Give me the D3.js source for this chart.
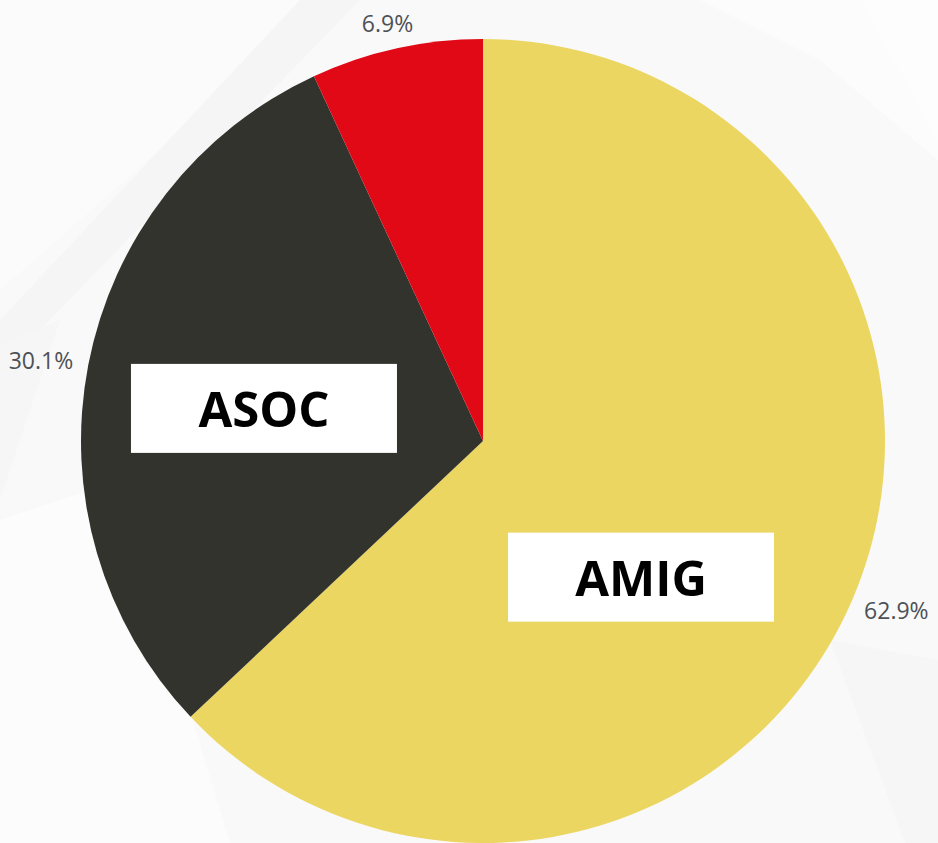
<!DOCTYPE html>
<html>
<head>
<meta charset="utf-8">
<script src="https://cdn.jsdelivr.net/npm/d3@7"></script>
<style>
  html, body { margin: 0; padding: 0; background: #f9f9f9; overflow: hidden; }
</style>
</head>
<body>
<script>
// data
const categories = ["AMIG", "ASOC", "OTRO"];
const shares = [62.9, 30.1, 6.9];
const pctLabels = ["62.9%", "30.1%", "6.9%"];
const showName = [true, true, false];
const colors = ["#ecd662", "#33332e", "#e10916"];

const width = 938, height = 843;
const cx = 483, cy = 441, radius = 402;

const svg = d3.select("body")
  .append("svg")
  .attr("width", width)
  .attr("height", height);

// faint background shapes
const bg = svg.append("g");
bg.append("rect").attr("width", width).attr("height", height).attr("fill", "#f9f9f9");
const shapes = [
  { pts: [[0, 0], [330, 0], [0, 290]], fill: "#fbfbfb" },
  { pts: [[300, 0], [360, 0], [40, 330], [0, 345], [0, 320]], fill: "#f5f5f5" },
  { pts: [[0, 345], [60, 320], [0, 500]], fill: "#f6f6f6" },
  { pts: [[700, 0], [938, 0], [938, 160], [820, 60]], fill: "#fcfcfc" },
  { pts: [[860, 0], [938, 0], [938, 140]], fill: "#fdfdfd" },
  { pts: [[830, 640], [938, 660], [938, 843], [905, 843]], fill: "#f6f6f6" },
  { pts: [[0, 520], [120, 480], [230, 843], [0, 843]], fill: "#fcfcfc" }
];
bg.selectAll("polygon")
  .data(shapes)
  .enter()
  .append("polygon")
  .attr("points", function (d) { return d.pts.map(function (p) { return p.join(","); }).join(" "); })
  .attr("fill", function (d) { return d.fill; });

const data = categories.map(function (c, i) {
  return { name: c, value: shares[i], pct: pctLabels[i], show: showName[i], color: colors[i] };
});

const pie = d3.pie()
  .sort(null)
  .value(function (d) { return d.value; });

const arc = d3.arc()
  .innerRadius(0)
  .outerRadius(radius);

const arcs = pie(data);

const g = svg.append("g")
  .attr("transform", "translate(" + cx + "," + cy + ")");

g.selectAll("path.slice")
  .data(arcs)
  .enter()
  .append("path")
  .attr("class", "slice")
  .attr("d", arc)
  .attr("fill", function (d) { return d.data.color; });

// percentage labels just outside the rim
const pctFont = 23;
const pctPos = function (d) {
  const a = (d.startAngle + d.endAngle) / 2;
  const r = radius + 16;
  const w = d.data.pct.length * pctFont * 0.56, h = pctFont * 0.85;
  const x = r * Math.sin(a) + (w / 2) * Math.sin(a);
  const y = -r * Math.cos(a) - (h / 2) * Math.cos(a);
  return [x, y];
};

g.selectAll("text.pct")
  .data(arcs)
  .enter()
  .append("text")
  .attr("class", "pct")
  .attr("x", function (d) { return pctPos(d)[0]; })
  .attr("y", function (d) { return pctPos(d)[1]; })
  .attr("text-anchor", "middle")
  .attr("dominant-baseline", "central")
  .attr("font-family", "Open Sans, sans-serif")
  .attr("font-size", pctFont)
  .attr("fill", "#4d5156")
  .text(function (d) { return d.data.pct; });

// white name boxes inside the slices
const nameArc = d3.arc().innerRadius(220).outerRadius(220);
const boxShift = { AMIG: [-44, 49], ASOC: [-3, 9] };
const boxW = 266, boxH = 89;

const names = g.selectAll("g.name")
  .data(arcs.filter(function (d) { return d.data.show; }))
  .enter()
  .append("g")
  .attr("class", "name")
  .attr("transform", function (d) {
    const c = nameArc.centroid(d);
    const s = boxShift[d.data.name] || [0, 0];
    return "translate(" + (c[0] + s[0]) + "," + (c[1] + s[1]) + ")";
  });

names.append("rect")
  .attr("x", -boxW / 2)
  .attr("y", -boxH / 2)
  .attr("width", boxW)
  .attr("height", boxH)
  .attr("fill", "#ffffff");

names.append("text")
  .attr("text-anchor", "middle")
  .attr("dominant-baseline", "central")
  .attr("font-family", "Open Sans, sans-serif")
  .attr("font-weight", 700)
  .attr("font-size", 49)
  .attr("fill", "#000000")
  .text(function (d) { return d.data.name; });
</script>
</body>
</html>
